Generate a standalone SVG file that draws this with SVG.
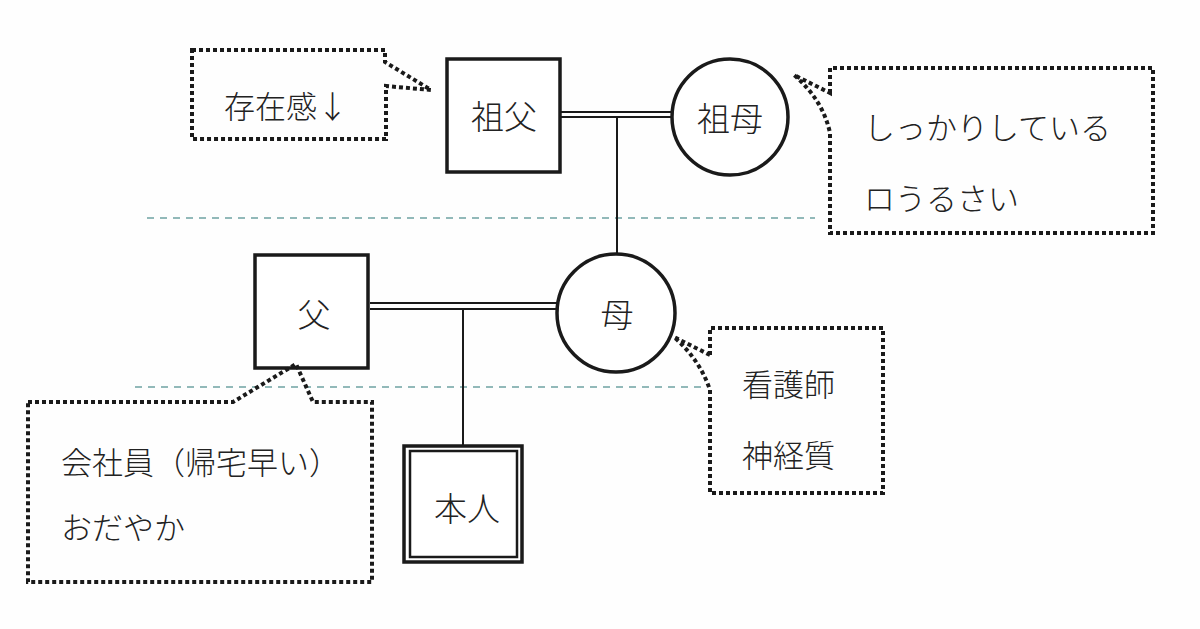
<svg xmlns="http://www.w3.org/2000/svg" width="1200" height="629" viewBox="0 0 1200 629">
<style>
.node{fill:#fff;stroke:#1a1a1a;stroke-width:3.5}
.callout{fill:none;stroke:#1a1a1a;stroke-width:4;stroke-dasharray:4 3;stroke-linejoin:miter}
.line{stroke:#1a1a1a;stroke-width:2;fill:none}
.gen{stroke:#6fa3a3;stroke-width:1.5;stroke-dasharray:7 6;fill:none}
text{font-family:"Noto Sans CJK JP","Noto Sans CJK SC",sans-serif;font-size:31px;fill:#222;font-weight:300}
.c{text-anchor:middle;dominant-baseline:central;font-size:33px}
.l{dominant-baseline:central}
</style>
<rect width="1200" height="629" fill="#fefefe"/>
<g id="generation-lines">
<line class="gen" x1="147" y1="218" x2="815" y2="218"/>
<line class="gen" x1="135" y1="387" x2="706" y2="387"/>
</g>
<g id="connectors">
<line class="line" x1="560" y1="112" x2="672" y2="112"/>
<line class="line" x1="560" y1="117" x2="672" y2="117"/>
<line class="line" x1="617" y1="117" x2="617" y2="255"/>
<line class="line" x1="370" y1="303" x2="557" y2="303"/>
<line class="line" x1="370" y1="309" x2="557" y2="309"/>
<line class="line" x1="463" y1="309" x2="463" y2="446"/>
</g>
<g id="node-sofu">
<rect class="node" x="447" y="59" width="113" height="113"/>
<text class="c" x="504" y="115">祖父</text>
</g>
<g id="node-sobo">
<circle class="node" cx="730" cy="117" r="58"/>
<text class="c" x="730" y="117">祖母</text>
</g>
<g id="node-chichi">
<rect class="node" x="255" y="255" width="113" height="113"/>
<text class="c" x="314" y="313">父</text>
</g>
<g id="node-haha">
<circle class="node" cx="616" cy="313" r="59"/>
<text class="c" x="617" y="313">母</text>
</g>
<g id="node-honnin">
<rect class="node" x="404" y="446" width="118" height="116" stroke-width="3"/>
<rect fill="none" stroke="#1a1a1a" stroke-width="2.5" x="410" y="451" width="107" height="106"/>
<text class="c" x="467" y="507">本人</text>
</g>
<g id="callout-sofu">
<path class="callout" d="M192,50 L385,50 L385,62 L431,90 L386,86 L386,139 L192,139 Z"/>
<text class="l" x="224" y="104">存在感↓</text>
</g>
<g id="callout-sobo">
<path class="callout" d="M830,93 L830,68 L1153,68 L1153,233 L830,233 L830,133 Q823,100 794,75 Z"/>
<text class="l" x="864" y="125">しっかりしている</text>
<text class="l" x="864" y="196">ロうるさい</text>
</g>
<g id="callout-chichi">
<path class="callout" d="M28,402 L233,402 L296,364 L313,402 L372,402 L372,582 L28,582 Z"/>
<text class="l" x="61" y="460">会社員（帰宅早い）</text>
<text class="l" x="61" y="525">おだやか</text>
</g>
<g id="callout-haha">
<path class="callout" d="M710,355 L710,328 L883,328 L883,493 L710,493 L710,390 Q700,360 674,337 Z"/>
<text class="l" x="742" y="382">看護師</text>
<text class="l" x="742" y="453">神経質</text>
</g>
</svg>
